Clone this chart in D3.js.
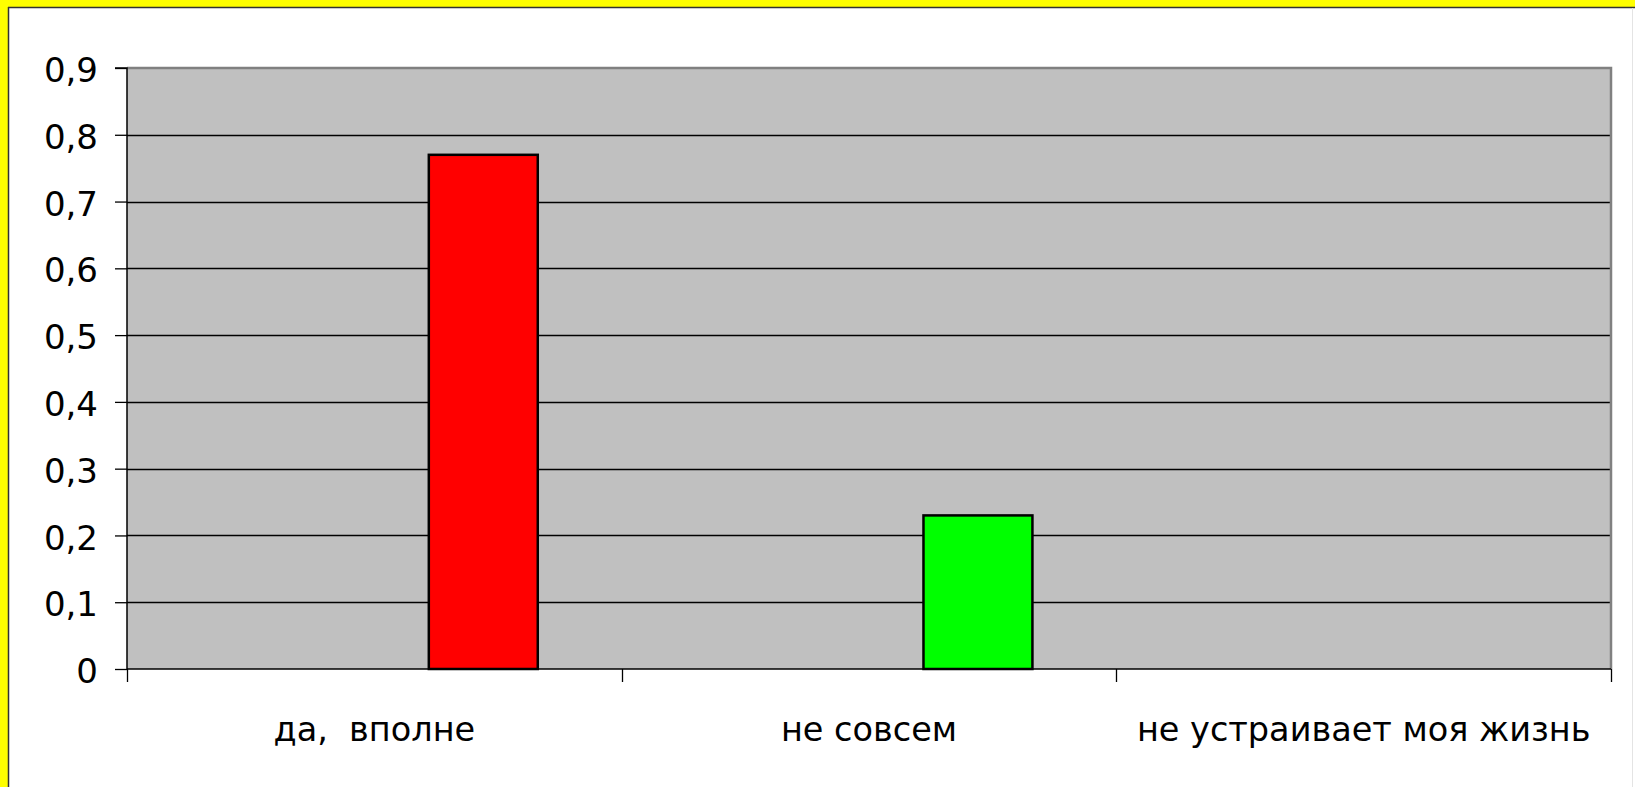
<!DOCTYPE html>
<html>
<head>
<meta charset="utf-8">
<script src="https://cdn.jsdelivr.net/npm/d3@7"></script>
<style>
  html, body { margin: 0; padding: 0; background: #ffffff; }
  svg { display: block; }
  text { font-family: "DejaVu Sans", sans-serif; fill: #000; white-space: pre; }
</style>
</head>
<body>
<svg id="chart" width="1635" height="787"></svg>
<script>
// ---- data ----
const categories = ["да,  вполне", "не совсем", "не устраивает моя жизнь"];
const seriesNames = ["Ряд1", "Ряд2", "Ряд3"];
const series1 = [0, 0, 0];
const series2 = [0, 0, 0];
const series3 = [0.77, 0.23, 0];
const pointColors = ["#ff0000", "#00ff00", "#0000ff"];
const yTicks = [0, 0.1, 0.2, 0.3, 0.4, 0.5, 0.6, 0.7, 0.8, 0.9];
const yMax = 0.9;

const seriesValues = [series1, series2, series3];

const W = 1635, H = 787;
const plot = { left: 127, right: 1611, top: 68, bottom: 669 };

const svg = d3.select("#chart");

// frame: yellow border left/top
svg.append("rect").attr("x", 0).attr("y", 0).attr("width", W).attr("height", H).attr("fill", "#ffff00");
svg.append("rect").attr("x", 9).attr("y", 8).attr("width", W - 9).attr("height", H - 8).attr("fill", "#ffffff");
svg.append("line").attr("x1", 8.5).attr("x2", 8.5).attr("y1", 7).attr("y2", H).attr("stroke", "#333").attr("stroke-width", 1.5);
svg.append("line").attr("x1", 8).attr("x2", W).attr("y1", 7.5).attr("y2", 7.5).attr("stroke", "#333").attr("stroke-width", 1.5);
svg.append("line").attr("x1", 1632.5).attr("x2", 1632.5).attr("y1", 8).attr("y2", H).attr("stroke", "#e4e4e4").attr("stroke-width", 1);

// scales
const x = d3.scaleBand().domain(categories).range([plot.left, plot.right]).paddingInner(0).paddingOuter(0);
const xs = d3.scaleBand().domain(seriesNames).range([0, x.bandwidth()]).paddingInner(0).paddingOuter(0.77);
const y = d3.scaleLinear().domain([0, yMax]).range([plot.bottom, plot.top]);
const fmt = v => d3.format(".1~f")(v).replace(".", ",");

// plot background
svg.append("rect")
  .attr("x", plot.left).attr("y", plot.top)
  .attr("width", plot.right - plot.left).attr("height", plot.bottom - plot.top)
  .attr("fill", "#c0c0c0");

// gridlines
svg.append("g").selectAll("line").data(yTicks.filter(t => t > 0 && t < yMax)).join("line")
  .attr("x1", plot.left).attr("x2", plot.right)
  .attr("y1", d => Math.round(y(d)) + 0.5).attr("y2", d => Math.round(y(d)) + 0.5)
  .attr("stroke", "#000").attr("stroke-width", 1.3);

// plot border top/right (grey)
svg.append("path")
  .attr("d", `M${plot.left},${plot.top} H${plot.right} V${plot.bottom}`)
  .attr("fill", "none").attr("stroke", "#808080").attr("stroke-width", 2.5);

// bars
const barData = [];
categories.forEach((c, i) => {
  seriesNames.forEach((s, j) => {
    const v = seriesValues[j][i];
    if (v > 0) barData.push({ c, s, v, color: pointColors[i] });
  });
});
svg.append("g").selectAll("rect").data(barData).join("rect")
  .attr("x", d => x(d.c) + xs(d.s))
  .attr("y", d => y(d.v))
  .attr("width", xs.bandwidth())
  .attr("height", d => y(0) - y(d.v))
  .attr("fill", d => d.color)
  .attr("stroke", "#000").attr("stroke-width", 2.5);

// y axis
const yAxis = d3.axisLeft(y).tickValues(yTicks).tickSize(12).tickPadding(16).tickFormat(fmt);
const gy = svg.append("g").attr("transform", `translate(${plot.left},0)`).call(yAxis);
gy.select(".domain").attr("stroke", "#000").attr("stroke-width", 1.5).attr("d", `M-12,${plot.top}H0V${plot.bottom}`);
gy.selectAll(".tick line").attr("stroke", "#000").attr("stroke-width", 1.3);
gy.selectAll(".tick text")
  .attr("font-family", "DejaVu Sans").attr("font-size", 34).attr("fill", "#000")
  .attr("dy", "0.4em").attr("x", -29);

// x axis
const xAxis = d3.axisBottom(x).tickSize(0).tickPadding(0);
const gx = svg.append("g").attr("transform", `translate(0,${plot.bottom})`).call(xAxis);
gx.select(".domain").attr("stroke", "#000").attr("stroke-width", 1.5).attr("d", `M${plot.left},0H${plot.right}`);
gx.selectAll(".tick text")
  .attr("font-family", "DejaVu Sans").attr("font-size", 33.5).attr("fill", "#000")
  .attr("dy", null).attr("y", 72);
// category boundary ticks
const boundaries = categories.map(c => x(c)).concat([x.range()[1]]);
gx.append("g").selectAll("line").data(boundaries).join("line")
  .attr("x1", d => Math.round(d) + 0.5).attr("x2", d => Math.round(d) + 0.5)
  .attr("y1", 0).attr("y2", 13)
  .attr("stroke", "#000").attr("stroke-width", 1.3);
</script>
</body>
</html>
